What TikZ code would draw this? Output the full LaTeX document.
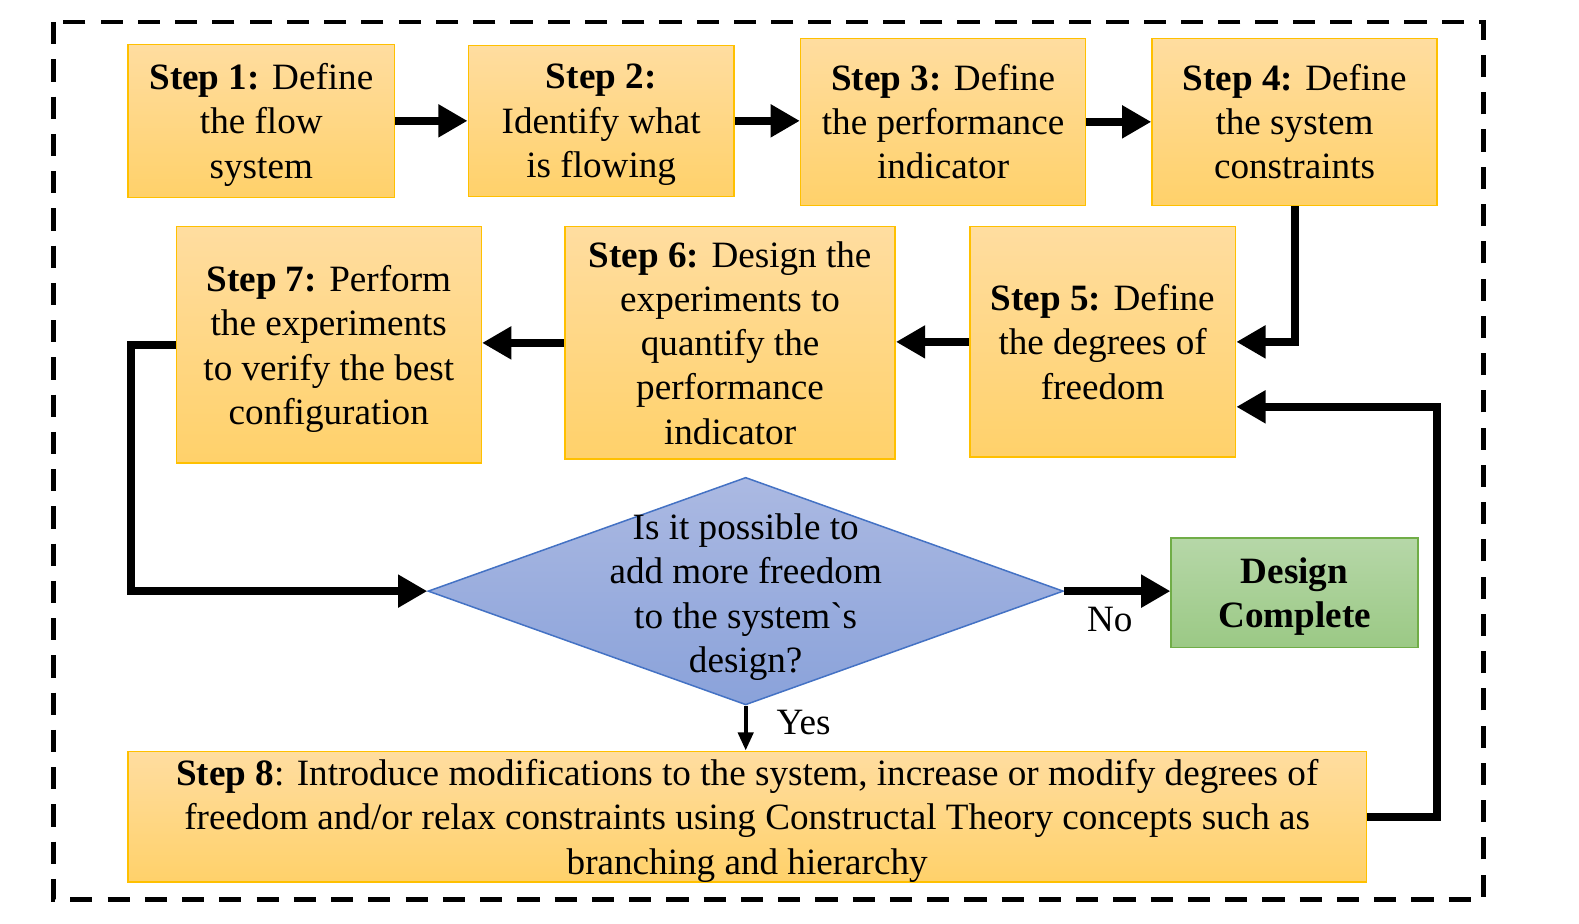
\documentclass[tikz,border=0pt]{standalone}
\usepackage{fontspec}
\setmainfont{Liberation Serif}
\usetikzlibrary{arrows.meta,shapes.geometric}
\definecolor{otop}{HTML}{FFDDA0}
\definecolor{obot}{HTML}{FFD16A}
\definecolor{oline}{HTML}{FFC000}
\definecolor{gtop}{HTML}{B6D7A8}
\definecolor{gbot}{HTML}{9BC985}
\definecolor{gline}{HTML}{70AD47}
\definecolor{btop}{HTML}{ABB9E2}
\definecolor{bbot}{HTML}{8AA2DA}
\definecolor{bline}{HTML}{4472C4}
\newcommand\dfont{\fontsize{21}{25}\selectfont}
\begin{document}
\begin{tikzpicture}[x=0.02cm,y=-0.02cm,
  stepbox/.style={draw=oline, line width=0.03cm, top color=otop, bottom color=obot,
    align=center, font=\dfont, inner sep=0pt},
  donebox/.style={draw=gline, line width=0.03cm, top color=gtop, bottom color=gbot,
    align=center, font=\dfont\bfseries, inner sep=0pt},
  lowtext/.style={text depth=0pt},
  flow/.style={line width=0.16cm, line join=miter, -{Triangle[length=0.58cm,width=0.62cm]}},
  thinflow/.style={line width=0.08cm, -{Triangle[length=0.36cm,width=0.3cm]}},
  lbl/.style={font=\dfont, inner sep=0pt}]
\useasboundingbox (0,0) rectangle (1568,917);
\draw[line width=0.09cm, dash pattern=on 0.44cm off 0.3cm] (53,22) rectangle (1473,893);

\node[stepbox, lowtext, minimum width=5.30cm, minimum height=3.04cm] (s1) at (259.5,120)
  {\textbf{Step 1:} Define\\the flow\\system};
\node[stepbox, lowtext, minimum width=5.28cm, minimum height=3.00cm] (s2) at (597,120)
  {\textbf{Step 2:}\\Identify what\\is flowing};
\node[stepbox, minimum width=5.66cm, minimum height=3.32cm] (s3) at (936.5,121)
  {\textbf{Step 3:} Define\\the performance\\indicator};
\node[stepbox, minimum width=5.66cm, minimum height=3.32cm] (s4) at (1285.5,121)
  {\textbf{Step 4:} Define\\the system\\constraints};
\node[stepbox, minimum width=5.28cm, minimum height=4.58cm] (s5) at (1095,339.5)
  {\textbf{Step 5:} Define\\the degrees of\\freedom};
\node[stepbox, minimum width=6.56cm, minimum height=4.62cm] (s6) at (725,340.5)
  {\textbf{Step 6:} Design the\\experiments to\\quantify the\\performance\\indicator};
\node[stepbox, lowtext, minimum width=6.06cm, minimum height=4.70cm] (s7) at (326.5,342.5)
  {\textbf{Step 7:} Perform\\the experiments\\to verify the best\\configuration};
\node[diamond, draw=bline, line width=0.03cm, top color=btop, bottom color=bbot,
  minimum width=12.62cm, minimum height=4.52cm, inner sep=0pt] (dia) at (740.5,587) {};
\node[lbl, lowtext, align=center] (diat) at (740.5,589)
  {Is it possible to\\add more freedom\\to the system\textasciigrave s\\design?};
\node[donebox, lowtext, minimum width=4.90cm, minimum height=2.18cm] (dc) at (1285.5,588.5)
  {Design\\Complete};
\node[stepbox, lowtext, minimum width=24.6cm, minimum height=2.60cm] (s8) at (742,811)
  {\textbf{Step 8}: Introduce modifications to the system, increase or modify degrees of\\
   freedom and/or relax constraints using Constructal Theory concepts such as\\
   branching and hierarchy};

\coordinate (c7) at (130,342);
\coordinate (c8) at (1427,404);

\draw[flow] (s1.east) -- (s1.east -| s2.west);
\draw[flow] (s2.east) -- (s2.east -| s3.west);
\draw[flow] (s3.east) -- (s3.east -| s4.west);
\draw[flow] (s4.south) |- (s5.east);
\draw[flow] (s5.west) -- (s5.west -| s6.east);
\draw[flow] (s6.west) -- (s6.west -| s7.east);
\draw[flow] (s7.west) -- (s7.west -| c7) |- (dia.west);
\draw[flow] (dia.east) -- (dia.east -| dc.west);
\draw[thinflow] (dia.south) -- (dia.south |- s8.north);
\draw[flow] (s8.east) -| (c8) -- (c8 -| s5.east);

\node[lbl] (no) at (1102,615) {No};
\node[lbl] (yes) at (798,717) {Yes};
\end{tikzpicture}
\end{document}
